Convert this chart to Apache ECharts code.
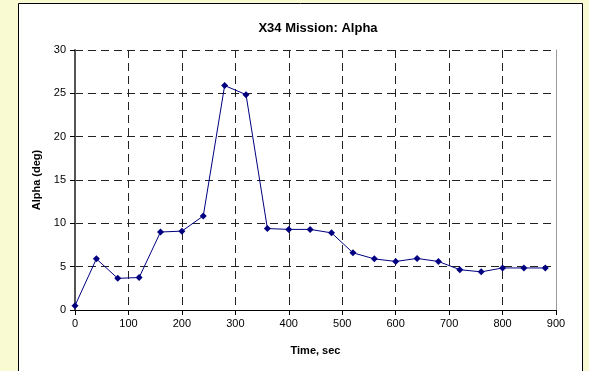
<!DOCTYPE html>
<html><head><meta charset="utf-8">
<script src="https://cdn.jsdelivr.net/npm/echarts@6/dist/echarts.min.js"></script>
<style>html,body{margin:0;padding:0;background:#FAFAD2;}#c{width:589px;height:371px;}</style>
</head><body><div id="c"></div>
<script>
const timeSec = [0,40,80,120,160,200,240,280,320,360,400,440,480,520,560,600,640,680,720,760,800,840,880];
const alphaDeg = [0.5,5.9,3.65,3.75,9.0,9.1,10.85,25.9,24.85,9.4,9.3,9.3,8.9,6.6,5.9,5.6,5.95,5.6,4.65,4.4,4.85,4.85,4.85];
const titleText = 'X34 Mission: Alpha';
const xName = 'Time, sec';
const yName = 'Alpha (deg)';

const data = timeSec.map((t,i)=>[t, alphaDeg[i]]);
const font = 'Liberation Sans, Arial, sans-serif';
const chart = echarts.init(document.getElementById('c'));
chart.setOption({
  backgroundColor: '#FAFAD2',
  animation: false,
  graphic: [{
    type: 'rect', z: -10, silent: true,
    shape: {x: 18.5, y: 3.5, width: 564, height: 400},
    style: {fill: '#ffffff', stroke: '#000000', lineWidth: 1}
  }],
  title: {
    text: titleText, left: 313, top: 17, textAlign: 'center',
    textStyle: {fontFamily: font, fontSize: 13, fontWeight: 'bold', color: '#000'}
  },
  grid: {left: 75, right: 33, top: 50, bottom: 61},
  xAxis: {
    type: 'value', min: 0, max: 900, interval: 100,
    name: xName, nameLocation: 'middle', nameGap: 35,
    nameTextStyle: {fontFamily: font, fontSize: 11, fontWeight: 'bold', color: '#000'},
    axisLine: {show: true, onZero: false, lineStyle: {color: '#000', width: 1}},
    axisTick: {show: true, length: 5, lineStyle: {color: '#000'}},
    axisLabel: {fontFamily: font, fontSize: 11, color: '#000', margin: 8},
    splitLine: {show: true, showMinLine: false, showMaxLine: false, lineStyle: {color: '#222', type: [8,5], width: 1}}
  },
  yAxis: [{
    type: 'value', min: 0, max: 30, interval: 5,
    name: yName, nameLocation: 'middle', nameGap: 30, nameRotate: 90,
    nameTextStyle: {fontFamily: font, fontSize: 11, fontWeight: 'bold', color: '#000'},
    axisLine: {show: true, lineStyle: {color: '#555', width: 2}},
    axisTick: {show: true, length: 5, lineStyle: {color: '#000'}},
    axisLabel: {fontFamily: font, fontSize: 11, color: '#000', margin: 9},
    splitLine: {show: true, showMinLine: false, showMaxLine: true, lineStyle: {color: '#222', type: [8,5], width: 1}}
  },{
    type: 'value', min: 0, max: 30, interval: 5, position: 'right',
    axisLine: {show: true, lineStyle: {color: '#999', width: 1}},
    axisTick: {show: false}, axisLabel: {show: false}, splitLine: {show: false}
  }],
  series: [{
    type: 'line', data: data, yAxisIndex: 0,
    symbol: 'diamond', symbolSize: 7,
    lineStyle: {color: '#000080', width: 1},
    itemStyle: {color: '#000080'}
  }]
});
</script>
</body></html>
